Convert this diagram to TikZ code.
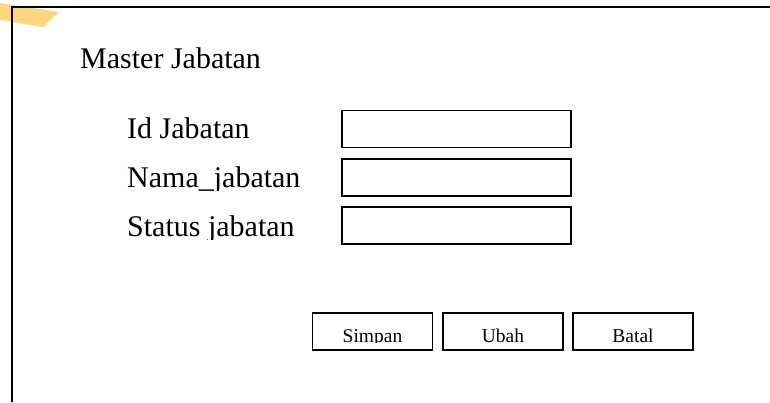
\documentclass[tikz,border=0pt]{standalone}
\usepackage{fontspec}
\setmainfont{Liberation Serif}
\definecolor{tape}{RGB}{253,214,125}
\tikzset{
  field/.style={draw, line width=1.6pt, minimum width=229pt, minimum height=37pt, inner sep=0pt},
  btnbox/.style={draw, line width=1.6pt, minimum width=120pt, minimum height=37pt, inner sep=0pt},
  lbl/.style={anchor=base west, inner sep=0pt, font=\fontsize{30}{36}\selectfont},
  btntext/.style={anchor=base, inner sep=0pt, font=\fontsize{19.5}{23}\selectfont}
}
\begin{document}
\begin{tikzpicture}[x=1pt,y=-1pt]
\useasboundingbox (0,0) rectangle (770,402);
% the tape
\fill[tape] (0,3) -- (59,12) -- (43,27) -- (0,20) -- cycle;
% the frame
\draw[line width=1.5pt] (12,402) -- (12,7) -- (770,7);

% the title
\node[lbl] (title) at (80,68) {Master Jabatan};

% the fields
\foreach \y/\b/\n/\t in {129/138/id/Id Jabatan,
                         177.5/187.5/nama/Nama\_jabatan,
                         225.5/236.5/status/Status jabatan}
    {\node[field] (field\n) at (456.5,\y) {};
     \begin{scope}
     \clip (120,\b-40) rectangle (335,\b+2.5);
     \node[lbl] (label\n) at (127,\b) {\t};
     \end{scope}};

% the buttons
\foreach \x/\n in {372.5/Simpan, 503/Ubah, 633/Batal}
    {\node[btnbox] (btn\n) at (\x,331.5) {};
     \begin{scope}
     \clip (\x-55,320) rectangle (\x+55,342.5);
     \node[btntext] (txt\n) at (\x,342) {\n};
     \end{scope}};
\end{tikzpicture}
\end{document}
